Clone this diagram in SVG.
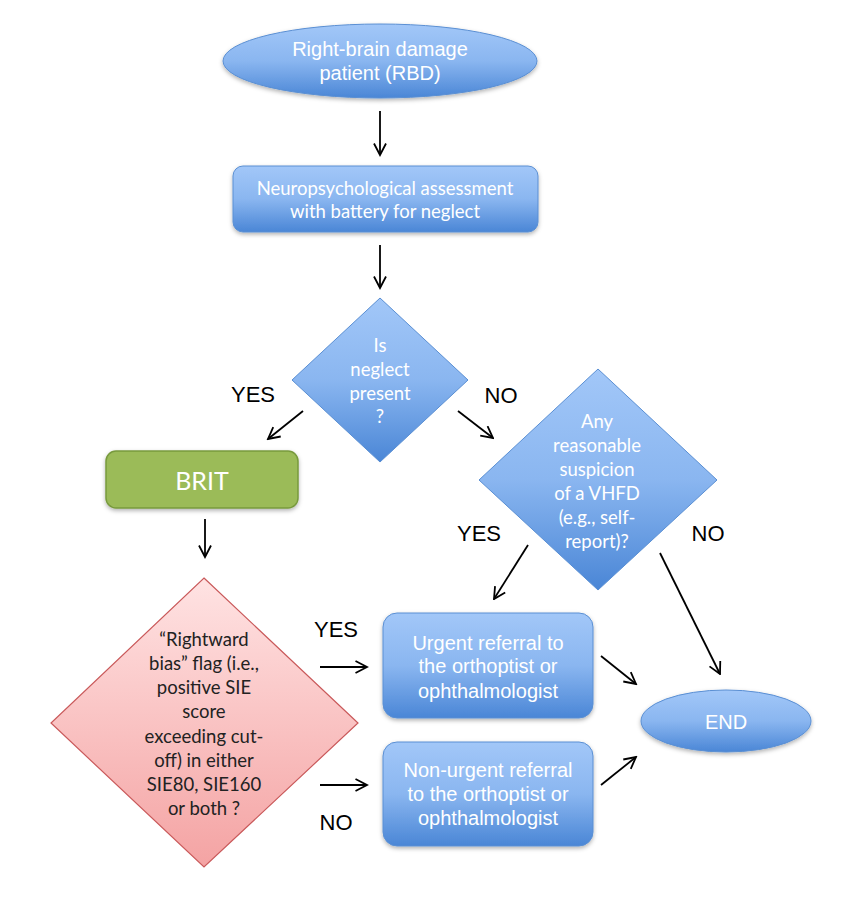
<svg xmlns="http://www.w3.org/2000/svg" width="850" height="900" viewBox="0 0 850 900">
<style>
.blue{fill:url(#gBlue);stroke:#5A8FD3;stroke-width:1}
.pink{fill:url(#gPink);stroke:#C9595A;stroke-width:1.2}
.green{fill:#9BBB59;stroke:#789A3D;stroke-width:1.5}
.h{font-family:"Liberation Sans",Arial,sans-serif;font-size:20px;fill:#fff;text-anchor:middle}
.c{font-family:Lato,"Open Sans",sans-serif;font-size:18.5px;fill:#fff;text-anchor:middle}
.cd{font-family:Lato,"Open Sans",sans-serif;font-size:18.5px;fill:#222;text-anchor:middle}
.lbl{font-family:"Liberation Sans",Arial,sans-serif;font-size:22px;fill:#000;text-anchor:middle}
.con{stroke:#000;stroke-width:1.8;fill:none;marker-end:url(#arr)}
</style>
<defs>
<linearGradient id="gBlue" x1="0" y1="0" x2="0" y2="1">
<stop offset="0" stop-color="#A2C7F8"/>
<stop offset="0.5" stop-color="#8AB6F0"/>
<stop offset="1" stop-color="#4A86D6"/>
</linearGradient>
<linearGradient id="gPink" x1="0" y1="0" x2="0" y2="1">
<stop offset="0" stop-color="#FFE3E3"/>
<stop offset="1" stop-color="#F4A3A3"/>
</linearGradient>
<filter id="sh" x="-10%" y="-10%" width="120%" height="130%">
<feDropShadow dx="0" dy="2" stdDeviation="2" flood-color="#000" flood-opacity="0.3"/>
</filter>
<marker id="arr" viewBox="0 0 14 14" refX="12.5" refY="7" markerWidth="14" markerHeight="14" markerUnits="userSpaceOnUse" orient="auto">
<path d="M1,1 L12.5,7 L1,13" fill="none" stroke="#000" stroke-width="1.8"/>
</marker>
</defs>
<rect width="850" height="900" fill="#fff"/>

<g id="start">
<ellipse cx="380" cy="61" rx="157" ry="37" class="blue" filter="url(#sh)"/>
<text class="h" x="380" y="56">Right-brain damage</text>
<text class="h" x="380" y="80">patient (RBD)</text>
</g>

<g id="assessment">
<rect x="233" y="166" width="305" height="66" rx="10" class="blue" filter="url(#sh)"/>
<text class="c" x="385" y="195">Neuropsychological assessment</text>
<text class="c" x="385" y="218">with battery for neglect</text>
</g>

<g id="neglect">
<polygon points="380,298 468,380 380,462 292,380" class="blue"/>
<text class="c" x="380" y="352">Is</text>
<text class="c" x="380" y="376">neglect</text>
<text class="c" x="380" y="400">present</text>
<text class="c" x="380" y="423">?</text>
</g>

<g id="brit">
<rect x="106" y="451" width="192" height="57" rx="10" class="green" filter="url(#sh)"/>
<text class="c" x="202" y="490" style="font-size:25px">BRIT</text>
</g>

<g id="vhfd">
<polygon points="598,369 717,480 598,590 479,480" class="blue"/>
<text class="c" x="597" y="428">Any</text>
<text class="c" x="597" y="452">reasonable</text>
<text class="c" x="597" y="476">suspicion</text>
<text class="c" x="597" y="500">of a VHFD</text>
<text class="c" x="597" y="524">(e.g., self-</text>
<text class="c" x="597" y="548">report)?</text>
</g>

<g id="bias">
<polygon points="204,578 358,723 204,867 51,723" class="pink"/>
<text class="cd" x="204" y="646">“Rightward</text>
<text class="cd" x="204" y="670">bias” flag (i.e.,</text>
<text class="cd" x="204" y="694">positive SIE</text>
<text class="cd" x="204" y="718">score</text>
<text class="cd" x="204" y="743">exceeding cut-</text>
<text class="cd" x="204" y="767">off) in either</text>
<text class="cd" x="204" y="791">SIE80, SIE160</text>
<text class="cd" x="204" y="815">or both ?</text>
</g>

<g id="urgent">
<rect x="383" y="613" width="210" height="105" rx="14" class="blue" filter="url(#sh)"/>
<text class="h" x="488" y="650">Urgent referral to</text>
<text class="h" x="488" y="673">the orthoptist or</text>
<text class="h" x="488" y="698">ophthalmologist</text>
</g>

<g id="nonurgent">
<rect x="383" y="742" width="210" height="104" rx="14" class="blue" filter="url(#sh)"/>
<text class="h" x="488" y="777">Non-urgent referral</text>
<text class="h" x="488" y="801">to the orthoptist or</text>
<text class="h" x="488" y="825">ophthalmologist</text>
</g>

<g id="end">
<ellipse cx="726" cy="721" rx="85" ry="31" class="blue" filter="url(#sh)"/>
<text class="h" x="726" y="729">END</text>
</g>

<g id="connectors">
<line class="con" x1="380" y1="111" x2="380" y2="155"/>
<line class="con" x1="380" y1="245" x2="380" y2="288"/>
<line class="con" x1="303" y1="411" x2="268" y2="439"/>
<line class="con" x1="458" y1="411" x2="493" y2="438"/>
<line class="con" x1="205" y1="519" x2="205" y2="557"/>
<line class="con" x1="528" y1="545" x2="494" y2="599"/>
<line class="con" x1="660" y1="553" x2="720" y2="674"/>
<line class="con" x1="320" y1="667" x2="367" y2="667"/>
<line class="con" x1="320" y1="785" x2="367" y2="785"/>
<line class="con" x1="601" y1="656" x2="636" y2="684"/>
<line class="con" x1="601" y1="785" x2="636" y2="757"/>
</g>

<g id="labels">
<text class="lbl" x="253" y="402">YES</text>
<text class="lbl" x="501" y="403">NO</text>
<text class="lbl" x="479" y="541">YES</text>
<text class="lbl" x="708" y="541">NO</text>
<text class="lbl" x="336" y="637">YES</text>
<text class="lbl" x="336" y="830">NO</text>
</g>
</svg>
